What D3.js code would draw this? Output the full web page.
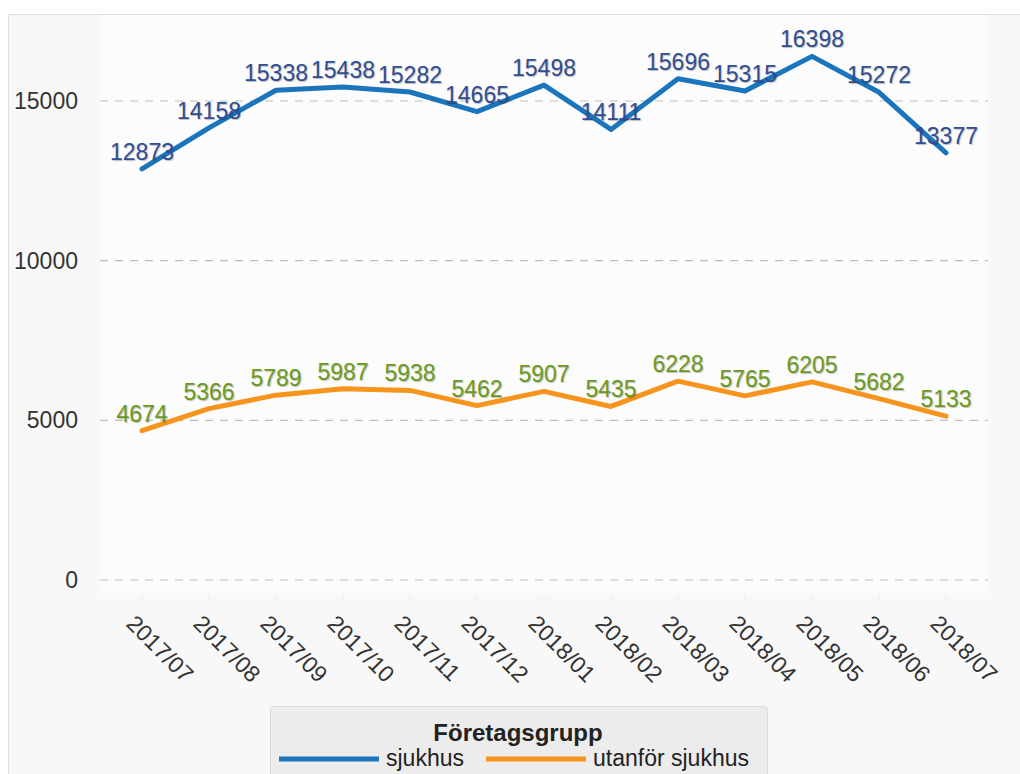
<!DOCTYPE html>
<html>
<head>
<meta charset="utf-8">
<script src="https://cdn.jsdelivr.net/npm/d3@7"></script>
<style>
  body { margin: 0; background: #fff; }
  text { font-family: "Liberation Sans", Arial, sans-serif; }
</style>
</head>
<body>
<svg id="chart" width="1020" height="774"></svg>
<script>
const months = ['2017/07','2017/08','2017/09','2017/10','2017/11','2017/12','2018/01','2018/02','2018/03','2018/04','2018/05','2018/06','2018/07'];
const sjukhus = [12873, 14158, 15338, 15438, 15282, 14665, 15498, 14111, 15696, 15315, 16398, 15272, 13377];
const utanfor = [4674, 5366, 5789, 5987, 5938, 5462, 5907, 5435, 6228, 5765, 6205, 5682, 5133];
const yTicks = [0, 5000, 10000, 15000];
const seriesNames = ['sjukhus', 'utanför sjukhus'];
const legendTitle = 'Företagsgrupp';

const series = [
  { name: seriesNames[0], values: sjukhus, line: '#1b75bc', label: '#2f4e93' },
  { name: seriesNames[1], values: utanfor, line: '#f7941d', label: '#6b9b1e' }
];

const svg = d3.select('#chart');

// frame + plot background
svg.append('rect').attr('x', 8.5).attr('y', 14.5).attr('width', 1020).attr('height', 780)
    .attr('fill', '#f8f8f8').attr('stroke', '#dedede');
svg.append('rect').attr('x', 100).attr('y', 15).attr('width', 888).attr('height', 578)
    .attr('fill', '#fcfcfc');

const x = d3.scalePoint().domain(months).range([142, 946]);
const y = d3.scaleLinear().domain([0, 15000]).range([580, 101]);

// gridlines
svg.append('g').selectAll('line').data(yTicks).join('line')
    .attr('x1', 100).attr('x2', 988)
    .attr('y1', d => y(d)).attr('y2', d => y(d))
    .attr('stroke', '#bdbdbd').attr('stroke-width', 1.2)
    .attr('stroke-dasharray', '8,7');

// y axis labels
svg.append('g').selectAll('text').data(yTicks).join('text')
    .attr('x', 78).attr('y', d => y(d) + 8)
    .attr('text-anchor', 'end')
    .attr('font-size', 23).attr('fill', '#333')
    .text(d => d);

// x ticks + labels
svg.append('g').selectAll('line').data(months).join('line')
    .attr('x1', d => x(d)).attr('x2', d => x(d))
    .attr('y1', 594).attr('y2', 602)
    .attr('stroke', '#eee');

svg.append('g').selectAll('text').data(months).join('text')
    .attr('transform', d => `translate(${x(d) - 17},${625}) rotate(45)`)
    .attr('font-size', 23).attr('fill', '#333')
    .text(d => d);

// lines
const line = d3.line()
    .x((d, i) => x(months[i]))
    .y(d => y(d));

series.forEach(s => {
  svg.append('path')
      .datum(s.values)
      .attr('d', line)
      .attr('fill', 'none')
      .attr('stroke', s.line)
      .attr('stroke-width', 5)
      .attr('stroke-linejoin', 'round')
      .attr('stroke-linecap', 'round');

  svg.append('g').selectAll('text').data(s.values).join('text')
      .attr('x', (d, i) => x(months[i]))
      .attr('y', d => y(d) - 9)
      .attr('text-anchor', 'middle')
      .attr('font-size', 23)
      .attr('fill', s.label)
      .style('text-shadow', '1px 1px 1px rgba(0,0,0,0.25)')
      .text(d => d);
});

// legend
const legend = svg.append('g');
legend.append('rect').attr('x', 270.5).attr('y', 706.5).attr('width', 497).attr('height', 80)
    .attr('rx', 3).attr('fill', '#ececec').attr('stroke', '#dcdcdc');
legend.append('text').attr('x', 518).attr('y', 741)
    .attr('text-anchor', 'middle').attr('font-size', 24).attr('font-weight', 'bold')
    .attr('fill', '#222').text(legendTitle);

const legendX = [279, 486];
series.forEach((s, i) => {
  legend.append('line')
      .attr('x1', legendX[i]).attr('x2', legendX[i] + 100)
      .attr('y1', 759).attr('y2', 759)
      .attr('stroke', s.line).attr('stroke-width', 5);
  legend.append('text')
      .attr('x', legendX[i] + 107).attr('y', 766)
      .attr('font-size', 23).attr('fill', '#222')
      .text(s.name);
});
</script>
</body>
</html>
